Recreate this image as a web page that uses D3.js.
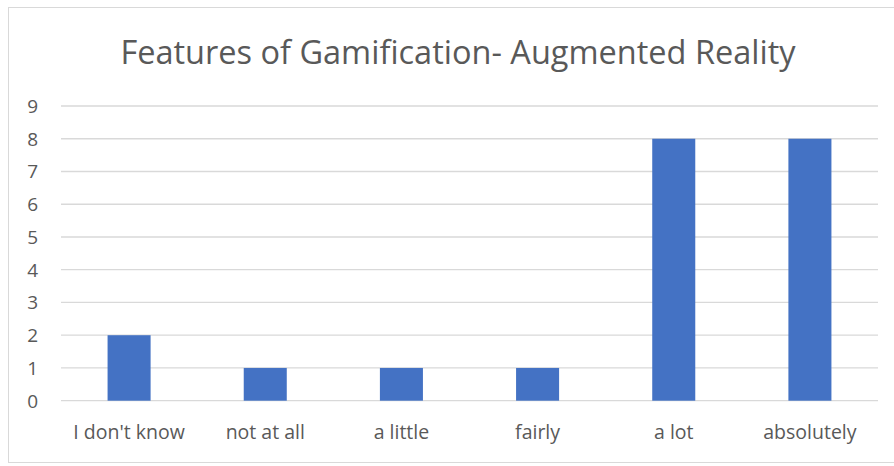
<!DOCTYPE html>
<meta charset="utf-8">
<head>
    <style>
        body { margin: 0; background: #fff; }
        text { font-family: 'Open Sans', sans-serif; fill: #595959; }
        .grid line { stroke: #d9d9d9; stroke-width: 1.3; }
    </style>
</head>
<body>
    <svg width="894" height="466"></svg>
    <script src="https://d3js.org/d3.v7.min.js"></script>
    <script type="text/javascript">

        var categories = ["I don't know", "not at all", "a little", "fairly", "a lot", "absolutely"];
        var values = [2, 1, 1, 1, 8, 8];
        var yTicks = [0, 1, 2, 3, 4, 5, 6, 7, 8, 9];
        var title = "Features of Gamification- Augmented Reality";

        var svg = d3.select("svg");

        // chart frame (right edge runs off the picture)
        svg.append("rect")
            .attr("x", 8.5).attr("y", 7.5)
            .attr("width", 890).attr("height", 455)
            .attr("fill", "#fff")
            .attr("stroke", "#d9d9d9");

        var plotLeft = 61, plotRight = 878, plotTop = 106, plotBottom = 400.7;

        var x = d3.scaleBand()
            .domain(categories)
            .range([plotLeft, plotRight])
            .paddingInner(0.684)
            .paddingOuter(0.342);

        var y = d3.scaleLinear()
            .domain([0, 9])
            .range([plotBottom, plotTop]);

        // gridlines
        svg.append("g")
            .attr("class", "grid")
            .selectAll("line")
            .data(yTicks)
            .enter()
            .append("line")
            .attr("x1", plotLeft).attr("x2", plotRight)
            .attr("y1", function (d) { return y(d); })
            .attr("y2", function (d) { return y(d); });

        // y labels
        svg.append("g")
            .selectAll("text")
            .data(yTicks)
            .enter()
            .append("text")
            .attr("x", 38)
            .attr("y", function (d) { return y(d); })
            .attr("dy", "0.36em")
            .attr("text-anchor", "end")
            .style("font-size", "19px")
            .text(function (d) { return d; });

        // bars
        svg.append("g")
            .selectAll("rect")
            .data(values)
            .enter()
            .append("rect")
            .attr("x", function (d, i) { return x(categories[i]); })
            .attr("y", function (d) { return y(d); })
            .attr("width", x.bandwidth())
            .attr("height", function (d) { return y(0) - y(d); })
            .attr("fill", "#4472c4");

        // x labels
        svg.append("g")
            .selectAll("text")
            .data(categories)
            .enter()
            .append("text")
            .attr("x", function (d) { return x(d) + x.bandwidth() / 2; })
            .attr("y", 439)
            .attr("text-anchor", "middle")
            .style("font-size", "19.5px")
            .text(function (d) { return d; });

        // title
        svg.append("text")
            .attr("x", 458)
            .attr("y", 64)
            .attr("text-anchor", "middle")
            .style("font-size", "32.5px")
            .text(title);

    </script>
</body>
